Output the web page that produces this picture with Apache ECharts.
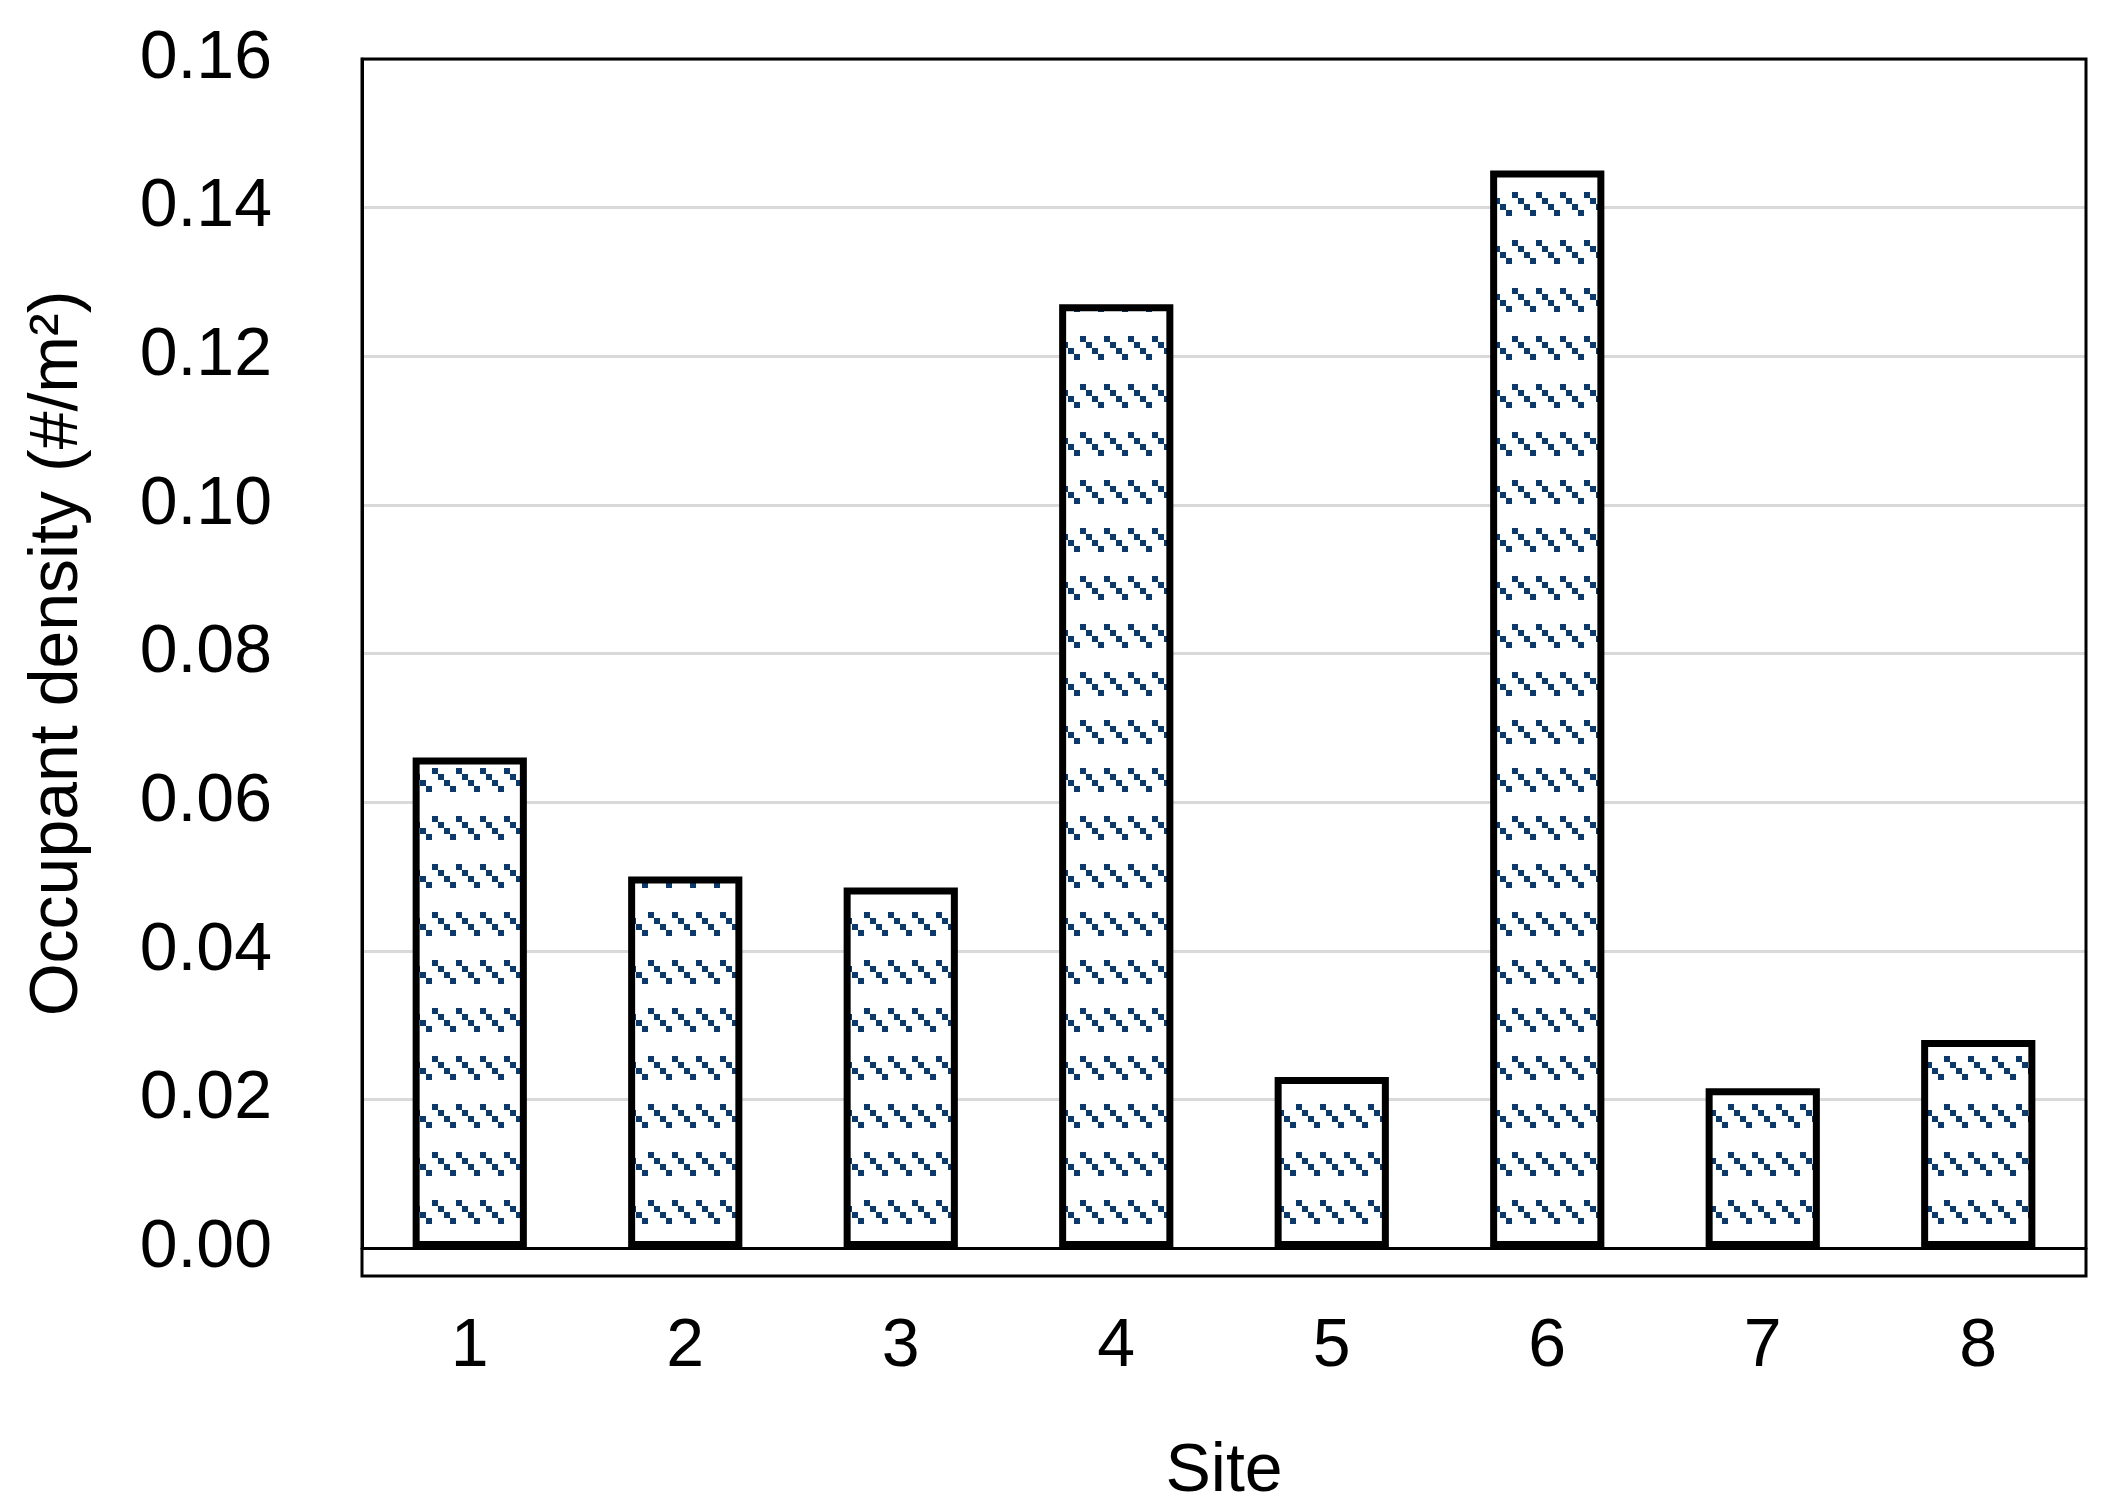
<!DOCTYPE html>
<html><head><meta charset="utf-8">
<script src="https://cdn.jsdelivr.net/npm/echarts@6/dist/echarts.min.js"></script>
<style>html,body{margin:0;background:#fff}#c{width:2110px;height:1511px}</style>
</head><body><div id="c"></div>
<script>
var sites = ['1', '2', '3', '4', '5', '6', '7', '8'];
var density = [0.066, 0.050, 0.0485, 0.127, 0.023, 0.145, 0.0215, 0.028];

// dotted diagonal hatch
var pat = document.createElement('canvas');
pat.width = 24; pat.height = 48;
var ctx = pat.getContext('2d');
ctx.fillStyle = '#fff'; ctx.fillRect(0, 0, 24, 48);
ctx.fillStyle = '#0b3a6b';
for (var i = 0; i < 4; i++) ctx.fillRect(i * 6, i * 6, 6, 6);

var chart = echarts.init(document.getElementById('c'));
var font = 'Liberation Sans, Arial, sans-serif';
chart.setOption({
    animation: false,
    grid: {left: 362, right: 24, top: 59, bottom: 235},
    xAxis: {
        type: 'category', data: sites, name: 'Site', nameLocation: 'middle', nameGap: 190,
        nameTextStyle: {fontSize: 68, color: '#000', fontFamily: font},
        axisLine: {lineStyle: {color: '#000', width: 3}}, axisTick: {show: false},
        axisLabel: {fontSize: 68, color: '#000', fontFamily: font, margin: 65}
    },
    yAxis: {
        type: 'value', min: 0, max: 0.16, interval: 0.02,
        name: 'Occupant density (#/m²)', nameLocation: 'middle', nameGap: 270,
        nameTextStyle: {fontSize: 68, color: '#000', fontFamily: font},
        axisLine: {show: true, lineStyle: {color: '#000', width: 3}}, axisTick: {show: false},
        axisLabel: {fontSize: 68, color: '#000', fontFamily: font, margin: 90,
            formatter: function (v) { return v.toFixed(2); }},
        splitLine: {lineStyle: {color: '#d9d9d9', width: 3}}
    },
    graphic: [{type: 'rect', shape: {x: 362, y: 59, width: 2110 - 24 - 362, height: 1276 - 59},
        style: {fill: 'none', stroke: '#000', lineWidth: 3}, z: 100}],
    series: [{
        type: 'bar', data: density, barWidth: '53%',
        itemStyle: {color: {image: pat, repeat: 'repeat'}, borderColor: '#000', borderWidth: 7}
    }]
});
</script></body></html>
